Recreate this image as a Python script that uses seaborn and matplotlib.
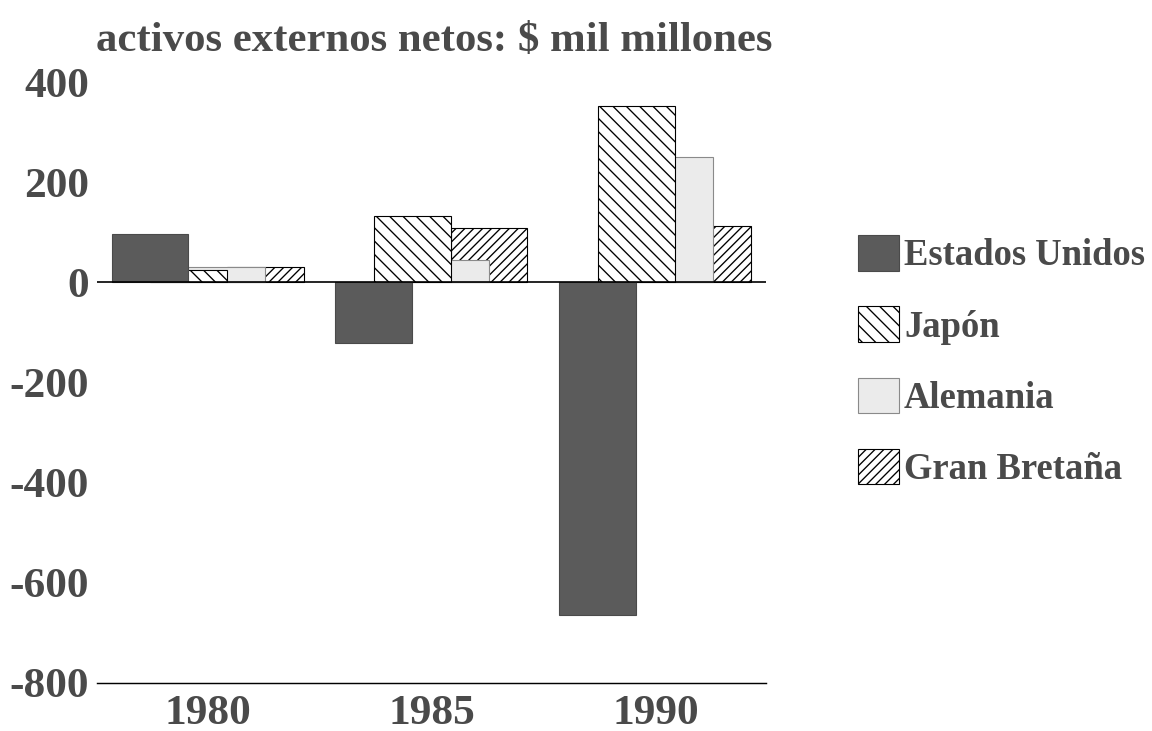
import matplotlib
matplotlib.use('Agg')
import matplotlib.pyplot as plt
from matplotlib.patches import Patch
import pandas as pd
import seaborn as sns

# data ($ mil millones)
years = ['1980', '1985', '1990']
series = ['Estados Unidos', 'Japón', 'Alemania', 'Gran Bretaña']
estados_unidos = [96, -122, -665]
japon = [25, 132, 352]
alemania = [30, 44, 250]
gran_bretana = [30, 109, 112]

colors = {'Estados Unidos': '#5b5b5b', 'Japón': 'white',
          'Alemania': '#ebebeb', 'Gran Bretaña': 'white'}
hatches = {'Estados Unidos': '', 'Japón': '\\\\', 'Alemania': '', 'Gran Bretaña': '///'}
edges = {'Estados Unidos': '#4a4a4a', 'Japón': 'black',
         'Alemania': '#8a8a8a', 'Gran Bretaña': 'black'}

group_gap = 5.83
values = [estados_unidos, japon, alemania, gran_bretana]
rows = []
for j, name in enumerate(series):
    for i, v in enumerate(values[j]):
        rows.append({'pos': i * group_gap + (j - 1.5), 'valor': v, 'pais': name})
df = pd.DataFrame(rows)

sns.set_style('white')
plt.rcParams['font.family'] = ['Liberation Serif', 'DejaVu Serif']
plt.rcParams['font.weight'] = 'bold'
plt.rcParams['hatch.linewidth'] = 1.2
plt.rcParams['axes.unicode_minus'] = False
text_color = '#4a4a4a'

fig = plt.figure(figsize=(14.4, 9.1375), dpi=80)
ax = fig.add_axes([0.0842, 0.0657, 0.5807, 0.8221])

# back to front: overlapping bars
draw_order = ['Gran Bretaña', 'Alemania', 'Japón', 'Estados Unidos']
sns.barplot(data=df, x='pos', y='valor', hue='pais', hue_order=draw_order,
            palette=colors, native_scale=True, dodge=False, width=2.0,
            orient='x', legend=False, errorbar=None, ax=ax)

for cont, name in zip(ax.containers, draw_order):
    for bar in cont:
        bar.set_hatch(hatches[name])
        bar.set_edgecolor(edges[name])
        bar.set_linewidth(1.0)

ax.axhline(0, color='black', lw=1.5, zorder=5)
ax.set_ylim(-800, 400)
ax.set_xlim(-2.88, 2 * group_gap + 2.88)
ax.set_yticks([400, 200, 0, -200, -400, -600, -800])
ax.set_xticks([i * group_gap for i in range(len(years))])
ax.set_xticklabels(years)
ax.tick_params(axis='both', length=0, labelsize=39, colors=text_color)
ax.tick_params(axis='y', pad=7)
ax.tick_params(axis='x', pad=11)
for lab in ax.get_xticklabels() + ax.get_yticklabels():
    lab.set_fontweight('bold')
ax.set_xlabel('')
ax.set_ylabel('')
for s in ['left', 'top', 'right']:
    ax.spines[s].set_visible(False)
ax.spines['bottom'].set_color('black')
ax.spines['bottom'].set_linewidth(1.3)

fig.text(0.083, 0.944, 'activos externos netos: $ mil millones', fontsize=38.5,
         fontweight='bold', color=text_color, ha='left', va='center')

handles = [Patch(facecolor=colors[n], edgecolor=edges[n], hatch=hatches[n], label=n)
           for n in series]
leg = fig.legend(handles=handles, loc='upper left', bbox_to_anchor=(0.745, 0.678),
                 frameon=False, fontsize=33, handlelength=1.1, handleheight=1.1,
                 handletextpad=0.15, labelspacing=0.9, borderpad=0, borderaxespad=0)
for t in leg.get_texts():
    t.set_color(text_color)
    t.set_fontweight('bold')

fig.savefig('out.png', dpi=80)
